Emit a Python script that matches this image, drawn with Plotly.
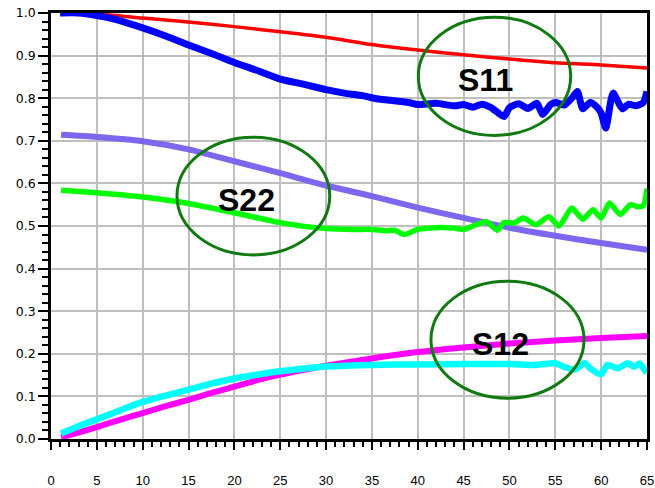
import plotly.graph_objects as go

# ---------------- data ----------------
x_red = [1, 5, 10, 15, 20, 25, 30, 35, 40, 45, 50, 55, 60, 65]
y_red = [1.0, 0.998, 0.988, 0.979, 0.968, 0.956, 0.943, 0.926, 0.913, 0.902, 0.892, 0.883, 0.878, 0.871]

x_blue = [1, 3, 5, 7, 10, 12.5, 15, 17.5, 20, 22.5, 25, 27.5, 30, 32, 34, 35.2, 37, 39, 40, 42, 44, 45,
          46, 47, 48, 49.4, 50, 51, 52, 53, 53.6, 54.5, 55, 56, 56.8, 57.4, 58, 58.8, 59.5, 60, 60.5,
          61.3, 62.3, 63, 63.8, 64.6, 65]
y_blue = [1.0, 1.0, 0.994, 0.985, 0.965, 0.946, 0.925, 0.905, 0.884, 0.865, 0.845, 0.833, 0.820, 0.812,
          0.806, 0.800, 0.795, 0.790, 0.785, 0.788, 0.782, 0.785, 0.779, 0.786, 0.778, 0.757, 0.778,
          0.787, 0.776, 0.788, 0.762, 0.785, 0.790, 0.784, 0.800, 0.816, 0.775, 0.790, 0.780, 0.765,
          0.730, 0.812, 0.775, 0.786, 0.782, 0.790, 0.816]

x_purple = [1.1, 5, 10, 15, 20, 25, 30, 35, 40, 45, 50, 55, 60, 65]
y_purple = [0.714, 0.709, 0.699, 0.680, 0.652, 0.624, 0.595, 0.570, 0.543, 0.519, 0.496, 0.477, 0.460, 0.444]

x_green = [1.1, 5, 10, 15, 20, 25, 30, 33, 35, 36.5, 37.5, 38.5, 40, 42, 44, 45, 46, 47.5, 48.7, 49.4,
           50.5, 51.5, 52.9, 54.3, 55.4, 56.8, 58, 59.1, 60, 60.9, 62.1, 63.2, 64, 64.6, 65]
y_green = [0.584, 0.578, 0.568, 0.553, 0.531, 0.508, 0.494, 0.492, 0.492, 0.489, 0.490, 0.480, 0.492,
           0.496, 0.495, 0.492, 0.500, 0.510, 0.490, 0.508, 0.507, 0.519, 0.503, 0.522, 0.500, 0.542,
           0.516, 0.538, 0.519, 0.554, 0.527, 0.550, 0.545, 0.548, 0.588]

x_magenta = [1.1, 3, 5, 7.5, 10, 12.5, 15, 17.5, 20, 22.5, 25, 27.5, 30, 35, 40, 45, 50, 55, 60, 65]
y_magenta = [0.004, 0.015, 0.028, 0.045, 0.061, 0.077, 0.092, 0.108, 0.123, 0.138, 0.151, 0.162, 0.172,
             0.189, 0.204, 0.215, 0.224, 0.231, 0.237, 0.242]

x_cyan = [1.1, 3, 5, 7.5, 10, 12.5, 15, 17.5, 20, 22.5, 25, 27.5, 30, 35, 40, 45, 50, 53, 55, 56, 57.1,
          58.2, 58.9, 60, 60.7, 61.8, 62.9, 63.6, 64.2, 64.8, 65]
y_cyan = [0.013, 0.030, 0.046, 0.067, 0.087, 0.102, 0.116, 0.130, 0.142, 0.151, 0.159, 0.165, 0.170,
          0.174, 0.175, 0.176, 0.176, 0.174, 0.178, 0.169, 0.163, 0.178, 0.164, 0.152, 0.174, 0.166,
          0.178, 0.170, 0.177, 0.160, 0.156]

labels = ["S11", "S22", "S12"]
label_x = [47.42, 21.29, 48.97]
label_y = [0.842, 0.561, 0.224]
# ellipse bounds: x0, x1, y0, y1
ell_x0 = [40.06, 13.74, 41.44]
ell_x1 = [56.68, 30.40, 58.13]
ell_y0 = [0.7125, 0.4322, 0.0958]
ell_y1 = [0.990, 0.7085, 0.3704]

x_ticks = list(range(0, 66, 5))
y_ticks = [round(i * 0.1, 1) for i in range(11)]

# ---------------- figure ----------------
fig = go.Figure()
series = [
    (x_red, y_red, "#ff0000", 3.5),
    (x_blue, y_blue, "#0000ff", 7),
    (x_purple, y_purple, "#7b68ee", 6),
    (x_green, y_green, "#00ff00", 5.5),
    (x_magenta, y_magenta, "#ff00ff", 6),
    (x_cyan, y_cyan, "#00ffff", 6.5),
]
for xs, ys, col, w in series:
    fig.add_trace(go.Scatter(x=xs, y=ys, mode="lines",
                             line=dict(color=col, width=w, shape="spline", smoothing=0.6),
                             showlegend=False, hoverinfo="skip"))

for i, t in enumerate(labels):
    fig.add_shape(type="circle", xref="x", yref="y",
                  x0=ell_x0[i], x1=ell_x1[i], y0=ell_y0[i], y1=ell_y1[i],
                  line=dict(color="#107a10", width=3), layer="above")
    fig.add_annotation(x=label_x[i], y=label_y[i], text=t, showarrow=False,
                       font=dict(family="Liberation Sans, Arial, sans-serif", size=32,
                                 color="black", weight="bold"))

fig.update_layout(
    width=655, height=488,
    margin=dict(l=51, r=8, t=13, b=49),
    plot_bgcolor="white", paper_bgcolor="white",
)
fig.update_xaxes(
    range=[0, 65], tickvals=x_ticks, ticktext=[str(v) for v in x_ticks],
    showgrid=True, gridcolor="#bfbfbf", gridwidth=2,
    showline=True, linecolor="black", linewidth=2.5, mirror=True,
    ticks="outside", ticklen=8, tickwidth=2, tickcolor="black",
    minor=dict(dtick=1, ticks="outside", ticklen=5, tickwidth=1.5, tickcolor="black", showgrid=False),
    tickfont=dict(family="Liberation Sans Narrow, Arial Narrow, Liberation Sans, sans-serif",
                  size=13, color="black"),
    ticklabelstandoff=20, zeroline=False, automargin=False, ticklabeloverflow="allow",
)
fig.update_yaxes(
    range=[0, 1.0], tickvals=y_ticks, ticktext=[f"{v:.1f}" for v in y_ticks],
    showgrid=True, gridcolor="#bfbfbf", gridwidth=2,
    showline=True, linecolor="black", linewidth=2.5, mirror=True,
    ticks="outside", ticklen=10, tickwidth=2, tickcolor="black",
    minor=dict(dtick=0.02, ticks="outside", ticklen=6, tickwidth=1.5, tickcolor="black", showgrid=False),
    tickfont=dict(family="DejaVu Sans, sans-serif", size=12.5, color="black"),
    ticklabelstandoff=0, zeroline=False, automargin=False, ticklabeloverflow="allow",
)

# remove the browser's default 8px body margin so the figure fills the window exactly
fig.write_html("out.html", config={"displayModeBar": False},
               post_script="document.body.style.margin='0';document.body.style.overflow='hidden';")
